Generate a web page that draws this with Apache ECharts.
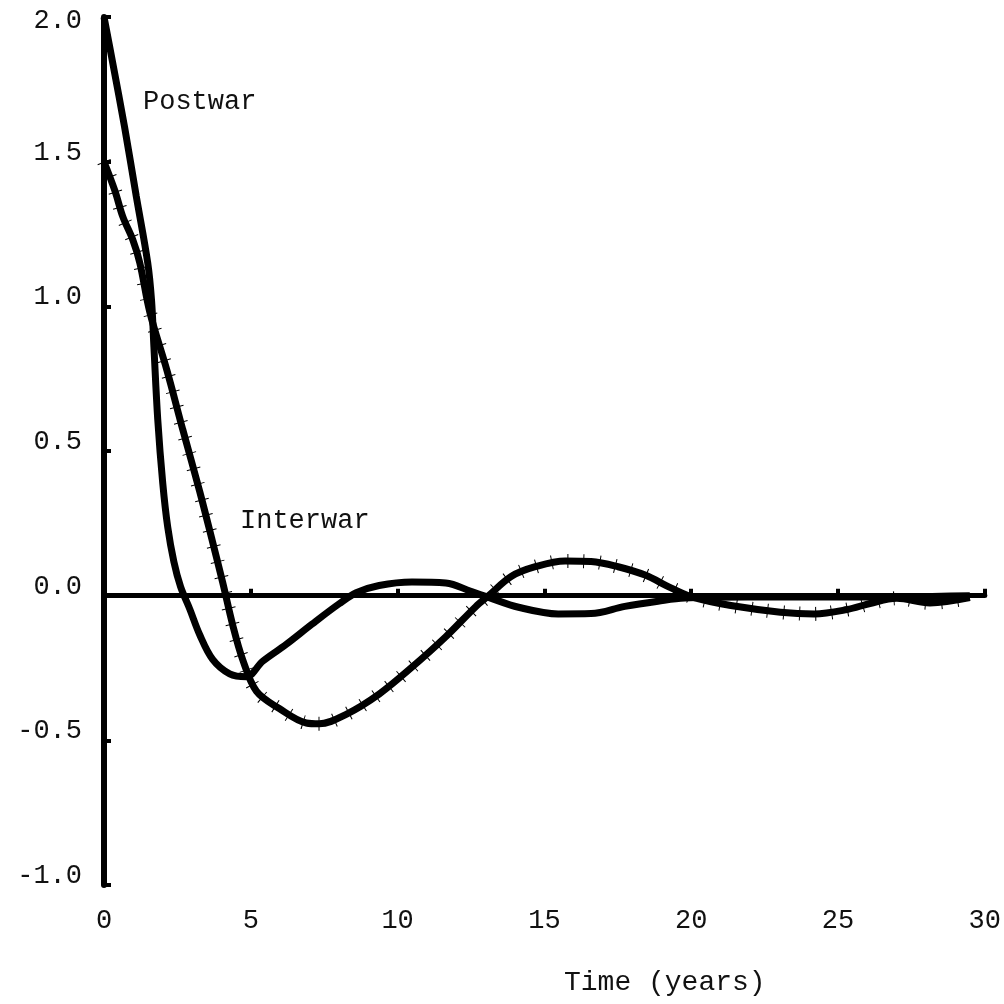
<!DOCTYPE html>
<html>
<head>
<meta charset="utf-8">
<script src="https://cdn.jsdelivr.net/npm/echarts@6/dist/echarts.min.js"></script>
<style>
html,body{margin:0;padding:0;background:#fff;}
#chart{width:1004px;height:1004px;}
</style>
</head>
<body>
<div id="chart"></div>
<script>
// Years (x) and response values (y)
const postwarYears = [0, 0.30, 0.70, 1.10, 1.49, 1.62, 1.70, 1.83, 2.00, 2.17, 2.38, 2.61, 2.92, 3.26, 3.70, 4.28, 4.85, 5.40, 6.21, 7.09, 8.01, 8.59, 9.37, 10.49, 11.64, 12.52, 13.10, 14.12, 15.47, 16.59, 17.74, 18.87, 19.78, 21.92, 25.31, 29.49];
const postwarValues = [2.0, 1.84, 1.62, 1.38, 1.15, 1.02, 0.86, 0.61, 0.39, 0.237, 0.117, 0.03, -0.046, -0.135, -0.22, -0.27, -0.28, -0.227, -0.168, -0.098, -0.028, 0.01, 0.035, 0.047, 0.044, 0.014, -0.006, -0.04, -0.063, -0.062, -0.037, -0.019, -0.008, -0.005, -0.005, 0];

const interwarYears = [0, 0.37, 0.64, 0.98, 1.22, 1.56, 2.14, 2.68, 3.26, 3.70, 4.04, 4.38, 4.72, 5.19, 5.97, 6.89, 7.33, 8.25, 9.37, 10.49, 11.64, 12.66, 13.10, 13.88, 14.69, 15.71, 16.59, 17.51, 18.43, 19.31, 20.13, 21.35, 23.04, 24.19, 25.31, 26.09, 27.00, 28.13, 29.49];
const interwarValues = [1.5, 1.40, 1.31, 1.23, 1.15, 0.98, 0.78, 0.575, 0.36, 0.185, 0.047, -0.10, -0.22, -0.33, -0.39, -0.44, -0.443, -0.41, -0.34, -0.247, -0.142, -0.038, 0, 0.067, 0.10, 0.12, 0.118, 0.10, 0.071, 0.027, -0.008, -0.034, -0.057, -0.063, -0.048, -0.027, -0.009, -0.025, -0.007];

const zeroLineYears = [0, 29.49];
const zeroLineValues = [0, 0];

const xTickValues = [0, 5, 10, 15, 20, 25, 30];
const yTickValues = [-1.0, -0.5, 0.0, 0.5, 1.0, 1.5, 2.0];

const seriesLabels = ['Postwar', 'Interwar'];
const xAxisTitle = 'Time (years)';

function pairs(xs, ys) { return xs.map((x, i) => [x, ys[i]]); }

const FONT = '"Liberation Mono", "DejaVu Sans Mono", monospace';

const chart = echarts.init(document.getElementById('chart'), null, {renderer: 'canvas'});
chart.setOption({
  backgroundColor: '#ffffff',
  animation: false,
  grid: {left: 104, right: 16, top: 17, bottom: 119},
  xAxis: {
    type: 'value',
    min: xTickValues[0],
    max: xTickValues[xTickValues.length - 1],
    interval: 5,
    axisLine: {lineStyle: {color: '#000', width: 5}},
    axisTick: {inside: true, length: 7, lineStyle: {color: '#000', width: 4}},
    axisLabel: {color: '#111', fontFamily: FONT, fontSize: 27, margin: 22,
      formatter: v => String(v)},
    splitLine: {show: false}
  },
  yAxis: {
    type: 'value',
    min: yTickValues[0],
    max: yTickValues[yTickValues.length - 1],
    interval: 0.5,
    axisLine: {onZero: false, lineStyle: {color: '#000', width: 6}},
    axisTick: {inside: true, length: 7, lineStyle: {color: '#000', width: 4}},
    axisLabel: {color: '#111', fontFamily: FONT, fontSize: 27, margin: 22,
      formatter: v => (v >= 2 ? '{t|' : '{n|') + v.toFixed(1) + '}',
      rich: {
        n: {fontFamily: FONT, fontSize: 27, color: '#111', padding: [0, 0, 18, 0]},
        t: {fontFamily: FONT, fontSize: 27, color: '#111', padding: [8, 0, 0, 0]}
      }},
    splitLine: {show: false}
  },
  series: [
    {
      name: 'zero', type: 'line', data: pairs(zeroLineYears, zeroLineValues),
      symbol: 'none', lineStyle: {color: '#000', width: 4}, z: 1
    },
    {
      name: seriesLabels[0], type: 'line', data: pairs(postwarYears, postwarValues),
      symbol: 'none', smooth: 0.35, lineStyle: {color: '#000', width: 7}, z: 2
    },
    {
      name: seriesLabels[1], type: 'line', data: pairs(interwarYears, interwarValues),
      symbol: 'none', smooth: 0.35, lineStyle: {color: '#000', width: 7}, z: 2
    },
    {
      name: seriesLabels[1] + ' hatch', type: 'line', data: pairs(interwarYears, interwarValues),
      symbol: 'none', smooth: 0.35, silent: true,
      lineStyle: {color: '#000', width: 14, type: [1, 15], cap: 'butt'}, z: 3
    }
  ],
  graphic: [
    {type: 'text', left: 143, top: 88, style: {text: seriesLabels[0], font: '27px ' + FONT, fill: '#111'}},
    {type: 'text', left: 240, top: 507, style: {text: seriesLabels[1], font: '27px ' + FONT, fill: '#111'}},
    {type: 'text', left: 564, top: 969, style: {text: xAxisTitle, font: '28px ' + FONT, fill: '#111'}}
  ]
});
</script>
</body>
</html>
